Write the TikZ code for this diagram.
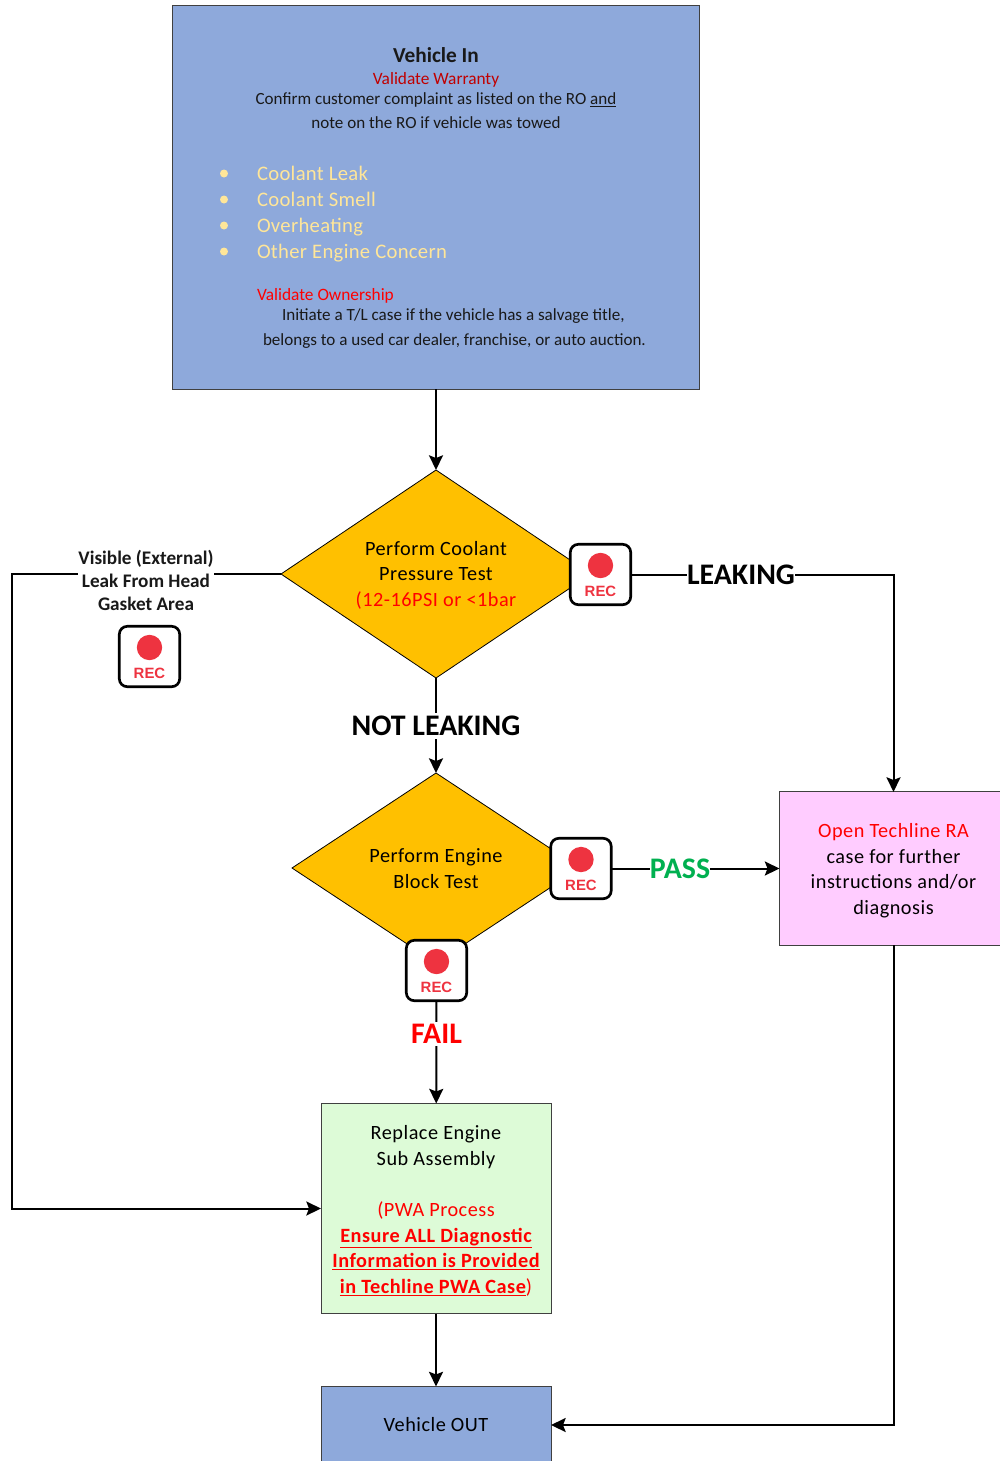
\documentclass[tikz,border=0pt]{standalone}
\usepackage{fontspec}
\setmainfont{Carlito}
\newfontfamily\recfont{Liberation Sans}
\usetikzlibrary{shapes.geometric,arrows.meta}
\definecolor{boxblue}{HTML}{8EA9DB}
\definecolor{amber}{HTML}{FFC000}
\definecolor{pinkbox}{HTML}{FFCCFF}
\definecolor{greenbox}{HTML}{DDFBD7}
\definecolor{recred}{HTML}{EE3340}
\definecolor{bulletcol}{HTML}{FFE699}
\definecolor{warnred}{HTML}{C00000}
\definecolor{passgreen}{HTML}{00B050}
\newcommand{\fs}[2]{\fontsize{#1}{#2}\selectfont}
\newcommand{\lspace}[1]{\addfontfeature{LetterSpace=#1}}
\newcommand{\lowr}{\rule{0pt}{14pt}}
\newcommand{\recbutton}[3]{%
  \node[recbox] (#1) at (#2,#3) {};
  \node[recdot] (#1dot) at (#2,#3-9) {};
  \node[rectext] (#1txt) at (#2,#3+16.5) {REC};
}
\tikzset{
  every node/.style={inner sep=0pt,outer sep=0pt},
  box/.style={draw=black!75,line width=0.75pt,rectangle,align=center},
  dia/.style={diamond,draw=black,line width=0.6pt,fill=amber,align=center,aspect=1.49},
  body/.style={font=\fs{15.2}{19.2}\lspace{2.5},align=center},
  small/.style={font=\fs{12.8}{16},text=black!90},
  bigtxt/.style={font=\fs{15.5}{19}\lspace{1.5},anchor=base west,text=bulletcol},
  bull/.style={circle,fill=bulletcol,minimum size=6pt},
  conn/.style={line width=1.5pt,-{Stealth[length=11pt,width=10.5pt,inset=2pt]}},
  edgelab/.style={fill=white,font=\fs{22.4}{24}\bfseries,inner xsep=0pt,inner ysep=2pt},
  recbox/.style={draw=black,line width=2pt,fill=white,rounded corners=6pt,minimum size=45.3pt},
  recdot/.style={circle,fill=recred,minimum size=19pt},
  rectext/.style={font=\recfont\fs{11.2}{13}\bfseries,text=recred},
}
\begin{document}
\begin{tikzpicture}[x=0.75pt,y=-0.75pt]
\path[use as bounding box,fill=white] (0,0) rectangle (1000,1461);
\clip (0,0) rectangle (1000,1461);
% boxes
\node[box,fill=boxblue,minimum width=395.6pt,minimum height=287.6pt] (vin) at (436,197.5) {};
\node[dia,minimum width=232.5pt,minimum height=156pt] (d1) at (436,574) {};
\node[dia,minimum width=216pt,minimum height=142.5pt] (d2) at (436,868) {};
\node[box,fill=pinkbox,minimum width=171pt,minimum height=114.8pt,body] (ra) at (893.5,868.5) {\lowr\textcolor{red}{Open Techline RA}\\case for further\\instructions and/or\\diagnosis};
\node[box,fill=greenbox,minimum width=172.5pt,minimum height=157.5pt,body] (pwa) at (436,1208.5) {\lowr Replace Engine\\Sub Assembly\\\mbox{}\\\textcolor{red}{(PWA Process}\\\textcolor{red}{\bfseries\underline{Ensure ALL Diagnostic}}\\\textcolor{red}{\bfseries\underline{Information is Provided}}\\\textcolor{red}{{\bfseries\underline{in Techline PWA Case}})}};
\node[box,fill=boxblue,minimum width=172.5pt,minimum height=57.8pt,body] (out) at (436,1425) {Vehicle OUT};
% text inside the top box
\node[font=\fs{16}{18}\bfseries,text=black!90] (t1) at (436,55.5) {Vehicle In};
\node[font=\fs{13}{16},text=warnred] (t2) at (436,80) {Validate Warranty};
\node[small] (t3) at (436,100) {Confirm customer complaint as listed on the RO \underline{and}};
\node[small] (t4) at (436,123) {note on the RO if vehicle was towed};
\foreach \nm/\yy/\tt in {a/180/Coolant Leak,b/206/Coolant Smell,c/232/Overheating,d/258/Other Engine Concern}{
  \node[bull] (bu\nm) at (224,\yy-6.5) {};
  \node[bigtxt] (li\nm) at (257,\yy) {\tt};
}
\node[font=\fs{13}{16},text=red,anchor=west] (t5) at (257,296) {Validate Ownership};
\node[small,anchor=west] (t6) at (282,316) {Initiate a T/L case if the vehicle has a salvage title,};
\node[small,anchor=west] (t7) at (263,341) {belongs to a used car dealer, franchise, or auto auction.};
% diamond text
\node[body] (d1t) at (436,575) {Perform Coolant\\Pressure Test\\\textcolor{red}{(12-16PSI or <1bar}};
\node[body] (d2t) at (436,868.5) {Perform Engine\\Block Test};
% connectors
\draw[conn] (vin) -- (d1);
\recbutton{r1}{600.5}{574.5}
\recbutton{r2}{581}{868.5}
\recbutton{r3}{436.5}{970.5}
\recbutton{r4}{149.5}{656.5}
\draw[conn] (r1) -| (ra);
\draw[conn] (d1.south) -- (d2.north);
\draw[conn] (r2) -- (ra);
\draw[conn] (r3) -- (pwa);
\draw[conn] (pwa) -- (out);
\draw[conn] (ra.south) |- (out.east);
\coordinate (lft) at (12,574);
\draw[conn] (d1.west) -- (lft) |- (pwa.west);
% labels
\node[edgelab] (l1) at (741,575) {LEAKING};
\node[edgelab] (l2) at (436,726) {NOT LEAKING};
\node[edgelab,text=passgreen] (l3) at (680,869) {PASS};
\node[edgelab,text=red] (l4) at (436.5,1034) {FAIL};
\node[fill=white,font=\fs{14.4}{17.2}\bfseries,align=center,text=black!90] (l5) at (146,580.5) {Visible (External)\\Leak From Head\\Gasket Area};
\end{tikzpicture}
\end{document}
